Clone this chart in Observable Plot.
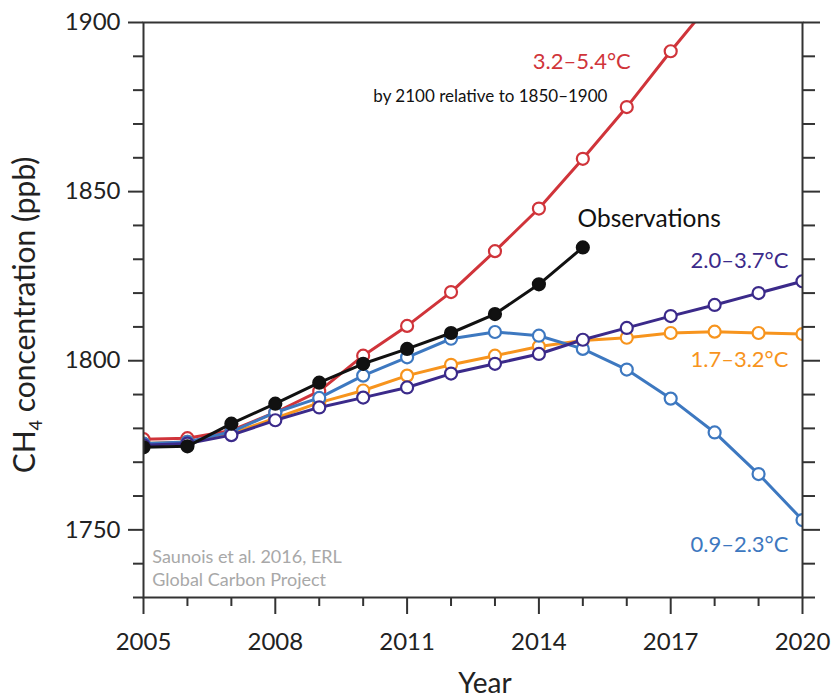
<!DOCTYPE html>
<html><head><meta charset="utf-8">
<script src="https://cdn.jsdelivr.net/npm/d3@7"></script>
<script src="https://cdn.jsdelivr.net/npm/@observablehq/plot@0.6"></script>
<style>body{margin:0;background:#fff;} svg{font-family:Lato, "Open Sans", sans-serif;}</style>
</head><body><div id="chart"></div>
<script>
const years = [2005,2006,2007,2008,2009,2010,2011,2012,2013,2014,2015,2016,2017,2018,2019,2020];
const observations = [1774.4,1774.7,1781.4,1787.3,1793.5,1799.1,1803.5,1808.2,1813.8,1822.6,1833.5];
const scenHigh = [1776.8,1777.1,1779.4,1784.7,1791.0,1801.5,1810.3,1820.3,1832.4,1845.0,1859.7,1875.0,1891.5,1907.3];
const scenMidHigh = [1775.0,1775.5,1778.0,1782.4,1786.2,1789.1,1792.1,1796.2,1799.1,1802.0,1806.2,1809.7,1813.2,1816.5,1820.0,1823.5];
const scenMid = [1775.5,1776.0,1778.5,1783.0,1787.6,1791.2,1795.6,1798.8,1801.5,1804.2,1806.0,1806.8,1808.2,1808.6,1808.2,1807.9];
const scenLow = [1775.5,1776.0,1779.0,1784.7,1789.0,1795.6,1801.0,1806.5,1808.5,1807.4,1803.5,1797.4,1788.8,1778.8,1766.5,1752.9];
const seriesNames = ["3.2–5.4°C","1.7–3.2°C","0.9–2.3°C","2.0–3.7°C","Observations"];
const colors = ["#d0343a","#f7941d","#3d78c0","#3b2a8a","#111111"];
const yMajor = [1750,1800,1850,1900];
const yMinor = [1730,1740,1760,1770,1780,1790,1810,1820,1830,1840,1860,1870,1880,1890];
const xMajor = [2005,2008,2011,2014,2017,2020];
const xMinor = [2006,2007,2009,2010,2012,2013,2015,2016,2018,2019];

const seriesVals = [scenHigh, scenMid, scenLow, scenMidHigh, observations];
const rows = seriesVals.flatMap((vals, i) => vals.map((v, j) => ({series: seriesNames[i], year: years[j], value: v})));
const colorOf = Object.fromEntries(seriesNames.map((s, i) => [s, colors[i]]));

const labels = [
  {text: "3.2–5.4°C", x: 2016.09, y: 1888.2, color: "#d0343a", anchor: "end", size: 22},
  {text: "by 2100 relative to 1850–1900", x: 2015.56, y: 1878.2, color: "#111", anchor: "end", size: 17},
  {text: "Observations", x: 2014.88, y: 1841.8, color: "#111", anchor: "start", size: 24.5},
  {text: "2.0–3.7°C", x: 2019.68, y: 1829.4, color: "#3b2a8a", anchor: "end", size: 22},
  {text: "1.7–3.2°C", x: 2019.68, y: 1800.3, color: "#f7941d", anchor: "end", size: 22},
  {text: "0.9–2.3°C", x: 2019.68, y: 1745.6, color: "#3d78c0", anchor: "end", size: 22},
  {text: "Saunois et al. 2016, ERL", x: 2005.2, y: 1741.8, color: "#a8a8a8", anchor: "start", size: 18},
  {text: "Global Carbon Project", x: 2005.2, y: 1735.0, color: "#a8a8a8", anchor: "start", size: 18}
];

const lineMarks = seriesNames.flatMap(s => {
  const d = rows.filter(r => r.series === s);
  const isObs = s === "Observations";
  return [
    Plot.line(d, {x: "year", y: "value", stroke: colorOf[s], strokeWidth: 3, clip: true}),
    Plot.dot(d, {x: "year", y: "value", r: 6, stroke: colorOf[s], strokeWidth: 2.2, fill: isObs ? colorOf[s] : "white", clip: true})
  ];
});

const chart = Plot.plot({
  width: 835, height: 700,
  marginLeft: 143, marginRight: 33, marginTop: 22, marginBottom: 103,
  style: {fontFamily: "Lato, 'Open Sans', sans-serif", background: "white"},
  x: {domain: [2005, 2020], axis: null},
  y: {domain: [1730, 1900], axis: null},
  marks: [
    ...lineMarks,
    ...labels.map(l => Plot.text([l], {x: "x", y: "y", text: "text", fill: l.color, textAnchor: l.anchor, fontSize: l.size})),
    Plot.axisY(yMajor, {anchor: "left", tickSize: 15, tickPadding: 8, fontSize: 24, stroke: "#333", strokeWidth: 2, fill: "#222", tickFormat: d => String(d)}),
    Plot.axisY(yMinor, {anchor: "left", tickSize: 10, stroke: "#333", strokeWidth: 2, tickFormat: () => ""}),
    Plot.axisY(yMajor, {anchor: "right", tickSize: 17, stroke: "#333", strokeWidth: 2, tickFormat: () => ""}),
    Plot.axisY(yMinor, {anchor: "right", tickSize: 12, stroke: "#333", strokeWidth: 2, tickFormat: () => ""}),
    Plot.axisX(xMajor, {anchor: "bottom", tickSize: 17, tickPadding: 18, fontSize: 24, stroke: "#333", strokeWidth: 2, fill: "#222", tickFormat: d => String(d)}),
    Plot.axisX(xMinor, {anchor: "bottom", tickSize: 9, stroke: "#333", strokeWidth: 2, tickFormat: () => ""}),
    Plot.frame({stroke: "#333", strokeWidth: 2})
  ]
});

const svg = d3.select(chart);
const yt = svg.append("text")
  .attr("transform", "translate(35,315) rotate(-90)")
  .attr("text-anchor", "middle")
  .attr("font-size", 30)
  .attr("fill", "#222");
yt.append("tspan").text("CH");
yt.append("tspan").attr("font-size", 18).attr("dy", 7).text("4");
yt.append("tspan").attr("dy", -7).text(" concentration (ppb)");
svg.append("text")
  .attr("x", 485).attr("y", 693)
  .attr("text-anchor", "middle")
  .attr("font-size", 28)
  .attr("fill", "#222")
  .text("Year");

document.getElementById("chart").appendChild(chart);
</script>
</body></html>
